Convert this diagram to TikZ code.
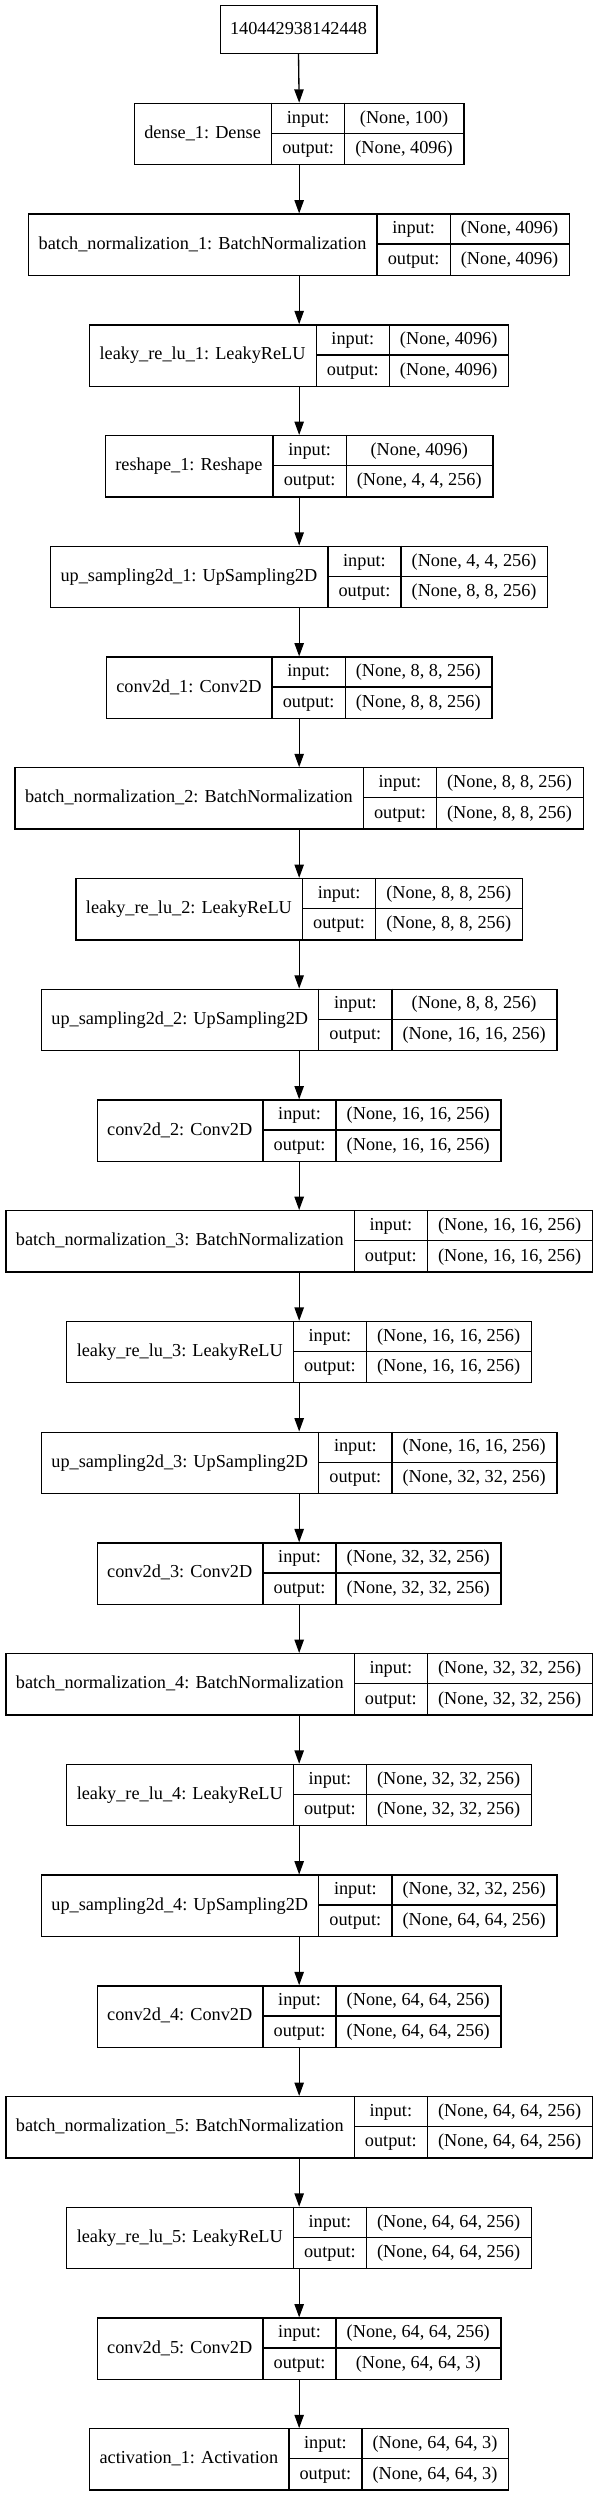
\documentclass[tikz,border=0pt]{standalone}
\usepackage{fontspec}
\setmainfont{Liberation Serif}
\usetikzlibrary{arrows.meta}
\newdimen\wtmpx
\newcommand\ffont{\fontsize{13.7pt}{16.4pt}\selectfont}
\tikzset{
  recbox/.style={draw, line width=1pt, inner sep=0pt, anchor=north west},
  cell/.style={inner sep=0pt, text height=10.5pt, text depth=3pt, font=\ffont},
  sepline/.style={line width=1pt},
  arr/.style={line width=1pt, -{Triangle[length=10pt,width=7pt]}},
}
\def\cx{223.875}
\newcommand\lyrs{%
\lyr{L1}{1}{dense\_1: Dense}{(None, 100)}{(None, 4096)}%
\lyr{L2}{2}{batch\_normalization\_1: BatchNormalization}{(None, 4096)}{(None, 4096)}%
\lyr{L3}{3}{leaky\_re\_lu\_1: LeakyReLU}{(None, 4096)}{(None, 4096)}%
\lyr{L4}{4}{reshape\_1: Reshape}{(None, 4096)}{(None, 4, 4, 256)}%
\lyr{L5}{5}{up\_sampling2d\_1: UpSampling2D}{(None, 4, 4, 256)}{(None, 8, 8, 256)}%
\lyr{L6}{6}{conv2d\_1: Conv2D}{(None, 8, 8, 256)}{(None, 8, 8, 256)}%
\lyr{L7}{7}{batch\_normalization\_2: BatchNormalization}{(None, 8, 8, 256)}{(None, 8, 8, 256)}%
\lyr{L8}{8}{leaky\_re\_lu\_2: LeakyReLU}{(None, 8, 8, 256)}{(None, 8, 8, 256)}%
\lyr{L9}{9}{up\_sampling2d\_2: UpSampling2D}{(None, 8, 8, 256)}{(None, 16, 16, 256)}%
\lyr{L10}{10}{conv2d\_2: Conv2D}{(None, 16, 16, 256)}{(None, 16, 16, 256)}%
\lyr{L11}{11}{batch\_normalization\_3: BatchNormalization}{(None, 16, 16, 256)}{(None, 16, 16, 256)}%
\lyr{L12}{12}{leaky\_re\_lu\_3: LeakyReLU}{(None, 16, 16, 256)}{(None, 16, 16, 256)}%
\lyr{L13}{13}{up\_sampling2d\_3: UpSampling2D}{(None, 16, 16, 256)}{(None, 32, 32, 256)}%
\lyr{L14}{14}{conv2d\_3: Conv2D}{(None, 32, 32, 256)}{(None, 32, 32, 256)}%
\lyr{L15}{15}{batch\_normalization\_4: BatchNormalization}{(None, 32, 32, 256)}{(None, 32, 32, 256)}%
\lyr{L16}{16}{leaky\_re\_lu\_4: LeakyReLU}{(None, 32, 32, 256)}{(None, 32, 32, 256)}%
\lyr{L17}{17}{up\_sampling2d\_4: UpSampling2D}{(None, 32, 32, 256)}{(None, 64, 64, 256)}%
\lyr{L18}{18}{conv2d\_4: Conv2D}{(None, 64, 64, 256)}{(None, 64, 64, 256)}%
\lyr{L19}{19}{batch\_normalization\_5: BatchNormalization}{(None, 64, 64, 256)}{(None, 64, 64, 256)}%
\lyr{L20}{20}{leaky\_re\_lu\_5: LeakyReLU}{(None, 64, 64, 256)}{(None, 64, 64, 256)}%
\lyr{L21}{21}{conv2d\_5: Conv2D}{(None, 64, 64, 256)}{(None, 64, 64, 3)}%
\lyr{L22}{22}{activation\_1: Activation}{(None, 64, 64, 3)}{(None, 64, 64, 3)}%
}
\newcommand\measurelyr[5]{%
  \setbox0=\hbox{\ffont #3}\expandafter\xdef\csname WA#1\endcsname{\the\wd0}%
  \setbox0=\hbox{\ffont #4}\wtmpx=\wd0
  \setbox0=\hbox{\ffont #5}\ifdim\wd0>\wtmpx \wtmpx=\wd0 \fi
  \expandafter\xdef\csname WC#1\endcsname{\the\wtmpx}%
}
\newcommand\reclayer[5]{%
  \edef\wA{\csname WA#1\endcsname}%
  \edef\wC{\csname WC#1\endcsname}%
  \pgfmathsetmacro\wla{\wA+16}%
  \pgfmathsetmacro\wmi{\WB+16}%
  \pgfmathsetmacro\wrg{\wC+16}%
  \pgfmathsetmacro\rtop{40+37.05*#2+46*(#2-1)}%
  \pgfmathsetmacro\rw{\wla+\wmi+\wrg}%
  \pgfmathsetmacro\xa{\cx-0.5*\rw}%
  \pgfmathsetmacro\xb{\xa+\wla}%
  \pgfmathsetmacro\xc{\xb+\wmi}%
  \pgfmathsetmacro\xd{\xa+\rw}%
  \pgfmathsetmacro\ya{-\rtop}%
  \pgfmathsetmacro\yb{-\rtop-46}%
  \pgfmathsetmacro\ym{-\rtop-23}%
  \pgfmathsetmacro\yi{-\rtop-11.5}%
  \pgfmathsetmacro\yo{-\rtop-34.5}%
  \pgfmathsetmacro\xlc{\xa+0.5*\wla}%
  \pgfmathsetmacro\xmc{\xb+0.5*\wmi}%
  \pgfmathsetmacro\xrc{\xc+0.5*\wrg}%
  \node[recbox, minimum width=\rw pt, minimum height=46pt] (#1) at (\xa pt,\ya pt) {};
  \draw[sepline] (\xb pt,\ya pt) -- (\xb pt,\yb pt);
  \draw[sepline] (\xc pt,\ya pt) -- (\xc pt,\yb pt);
  \draw[sepline] (\xb pt,\ym pt) -- (\xd pt,\ym pt);
  \node[cell] (#1-l) at (\xlc pt,\ym pt) {#3};
  \node[cell] (#1-i) at (\xmc pt,\yi pt) {input:};
  \node[cell] (#1-o) at (\xmc pt,\yo pt) {output:};
  \node[cell] (#1-is) at (\xrc pt,\yi pt) {#4};
  \node[cell] (#1-os) at (\xrc pt,\yo pt) {#5};
}
\begin{document}
\setbox0=\hbox{\ffont output:}\xdef\WB{\the\wd0}%
{\let\lyr\measurelyr \lyrs}%
\begin{tikzpicture}
\useasboundingbox (0,0) rectangle (447.75pt,-1871.25pt);
\node[draw, line width=1pt, cell, minimum width=117.5pt, minimum height=36pt] (L0) at (\cx pt,-22pt) {140442938142448};
\let\lyr\reclayer
\lyrs
\foreach \a [count=\b from 1] in {0,...,21} {
  \draw[arr] (L\a.south) -- (L\b.north);
}
\end{tikzpicture}
\end{document}
